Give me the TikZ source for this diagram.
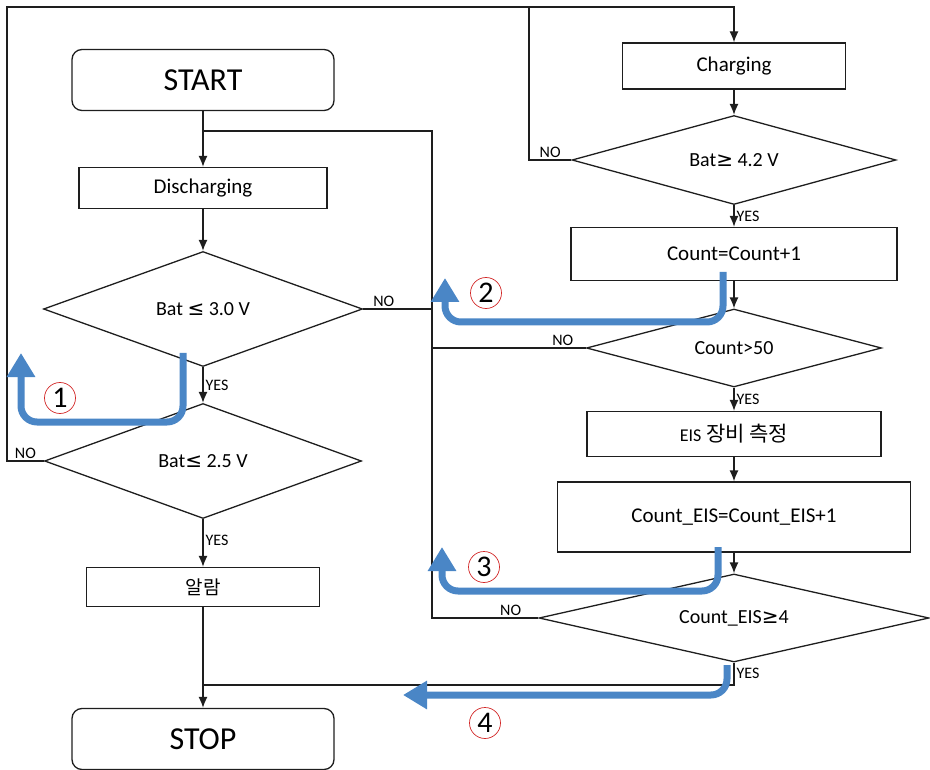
\documentclass[tikz,border=0pt]{standalone}
\usepackage{fontspec}
\setmainfont{Carlito}
\newfontfamily\krfont{Noto Sans CJK KR}
\newfontfamily\symfont{DejaVu Sans}
\usepackage{tikz}
\usetikzlibrary{arrows.meta, shapes.geometric, calc}
\definecolor{hintblue}{RGB}{74,134,198}
\definecolor{ringred}{RGB}{210,40,40}
\definecolor{ink}{RGB}{30,30,30}
\newcommand{\fs}[1]{\fontsize{#1}{#1}\selectfont}

\begin{document}
\begin{tikzpicture}[x=1pt,y=-1pt,line width=1.3pt,draw=ink,>={Latex[length=11pt,width=9pt]},
  term/.style={draw,rectangle,rounded corners=10pt,font=\fs{32}},
  box/.style={draw,rectangle,font=\fs{21}},
  dec/.style={draw,diamond,aspect=3,inner sep=0pt,font=\fs{20}},
  lbl/.style={font=\fs{16},inner sep=2pt},
  hint/.style={draw=hintblue,line width=7pt,rounded corners=16pt,-{Triangle[length=24pt,width=27pt]}},
  ring/.style={draw=ringred,circle,line width=.7pt,minimum size=31pt,inner sep=0pt,font=\fs{30}}]
\useasboundingbox (0,0) rectangle (930,770);
% left column
\node [term,minimum width=262pt,minimum height=61pt] (start) at (203,80)  {START};
\node [box,minimum width=248pt,minimum height=41pt]  (dis)   at (203,188) {Discharging};
\node [dec,minimum width=319pt,minimum height=115pt] (d1)    at (203,309) {Bat {\symfont≤} 3.0 V};
\node [dec,minimum width=317pt,minimum height=115pt] (d2)    at (203,461) {Bat{\symfont≤} 2.5 V};
\node [box,minimum width=233pt,minimum height=39pt]  (alarm) at (203,587) {\krfont\fs{19}알람};
\node [term,minimum width=262pt,minimum height=61pt] (stop)  at (203,739) {STOP};
% right column
\node [box,minimum width=223pt,minimum height=46pt]  (chg)   at (734,66)  {Charging};
\node [dec,minimum width=324pt,minimum height=89pt]  (d3)    at (734,160) {Bat{\symfont≥} 4.2 V};
\node [box,minimum width=326pt,minimum height=53pt]  (cnt)   at (734,254) {Count=Count+1};
\node [dec,minimum width=295pt,minimum height=78pt]  (d4)    at (734,348) {Count>50};
\node [box,minimum width=294pt,minimum height=45pt]  (eis)   at (734,434) {{\fs{18}EIS} {\krfont 장비 측정}};
\node [box,minimum width=353pt,minimum height=70pt]  (ecnt)  at (734,517) {Count\_EIS=Count\_EIS+1};
\node [dec,minimum width=390pt,minimum height=88pt]  (d5)    at (734,618) {Count\_EIS{\symfont≥}4};
% corner points of the loops
\coordinate (tl)  at (7,7);
\coordinate (n3)  at (529,7);
\coordinate (bus) at (432,131);
\coordinate (jb)  at (203,685);
% connectors
\draw [->] (start) -- (dis);
\draw [->] (dis) -- (d1);
\draw [->] (d1) -- node [lbl,right] {YES} (d2);
\draw [->] (d2) -- node [lbl,right,pos=.45] {YES} (alarm);
\draw [->] (alarm) -- (stop);
\draw [->] (d2.west) -- node [lbl,above] {NO} (d2.west -| tl) -- (tl) -- (tl -| chg) -- (chg);
\draw (d1.east) -- node [lbl,above,pos=.3] {NO} (d1.east -| bus);
\draw [->] (chg) -- (d3);
\draw (d3.west) -- node [lbl,above] {NO} (d3.west -| n3) -- (n3);
\draw [->] (d3) -- node [lbl,right] {YES} (cnt);
\draw [->] (cnt) -- (d4);
\draw (d4.west) -- node [lbl,above,pos=.15] {NO} (d4.west -| bus) -- (bus) -- (bus -| start);
\draw [->] (d4) -- node [lbl,right] {YES} (eis);
\draw [->] (eis) -- (ecnt);
\draw [->] (ecnt) -- (d5);
\draw (d5.west) -- node [lbl,above,pos=.26] {NO} (d5.west -| bus) -- (bus);
\draw (d5.south) -- node [lbl,right] {YES} (d5.south |- jb) -- (jb);
% blue hints
\draw [hint] (183,353) -- (183,422) -- (21,422) -- (21,353);
\draw [hint] (723,272) -- (723,322) -- (445,322) -- (445,278);
\draw [hint] (718,547) -- (718,591) -- (442,591) -- (442,547);
\draw [hint] (727,665) -- (727,695) -- (403,695);
\node [ring] (r1) at (60,398)  {1};
\node [ring] (r2) at (486,293) {2};
\node [ring] (r3) at (484,567) {3};
\node [ring] (r4) at (485,723) {4};
\end{tikzpicture}
\end{document}
